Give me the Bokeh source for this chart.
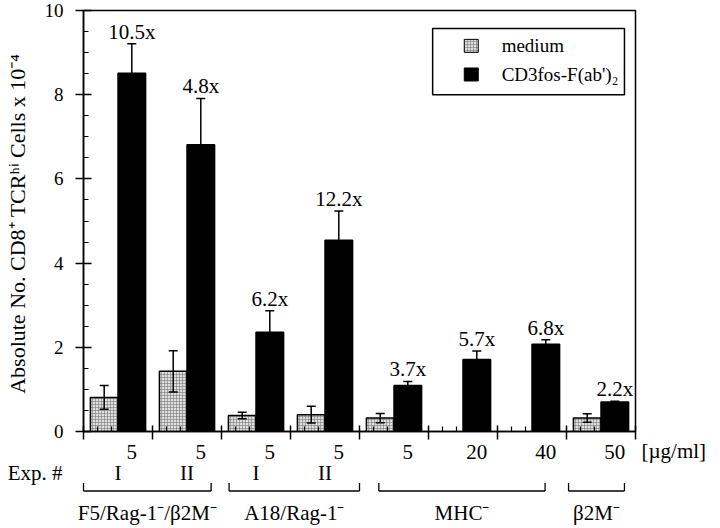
from bokeh.plotting import figure
from bokeh.layouts import column
from bokeh.models import (ColumnDataSource, FixedTicker, Whisker, TeeHead,
                          LabelSet, Range1d)
from bokeh.core.properties import value
from bokeh.embed import file_html
from bokeh.resources import INLINE

# ---------------- data ----------------
conc_labels = ["5", "5", "5", "5", "5", "20", "40", "50"]          # [µg/ml]
experiment = ["I", "II", "I", "II", "", "", "", ""]
medium = [0.81, 1.43, 0.38, 0.40, 0.32, None, None, 0.32]
medium_err = [0.28, 0.49, 0.08, 0.20, 0.11, None, None, 0.10]
cd3 = [8.51, 6.81, 2.36, 4.54, 1.09, 1.71, 2.07, 0.70]
cd3_err = [0.70, 1.10, 0.51, 0.70, 0.10, 0.20, 0.11, 0.02]
fold = ["10.5x", "4.8x", "6.2x", "12.2x", "3.7x", "5.7x", "6.8x", "2.2x"]
groups = ["F5/Rag-1\u207b/\u03b22M\u207b", "A18/Rag-1\u207b", "MHC\u207b", "\u03b22M\u207b"]
group_first = [0, 2, 4, 7]
group_last = [1, 3, 6, 7]
y_ticks = [0, 2, 4, 6, 8, 10]
series_names = ["medium", "CD3fos-F(ab')\u2082"]
unit_label = "[\u00b5g/ml]"
exp_title = "Exp. #"

FONT = "Liberation Serif"
n = len(cd3)
MED_FILL, MED_HATCH = "#dedede", "#7a7a7a"

# layout constants (pixels)
FIG_W = 720
LEFT, RIGHT = 83, 85
TOP_H = 446
GAP = 15                 # px between the x axis line and the bottom of the chart canvas
OVERLAP = 14             # label strip starts 1px under the axis line (transparent overlay)
BOT_H = 528 - TOP_H + OVERLAP
frame_w = FIG_W - LEFT - RIGHT
ppu = frame_w / n        # pixels per slot

# ======================= main chart =======================
p = figure(width=FIG_W, height=TOP_H, x_range=Range1d(0, n), y_range=Range1d(0, 10),
           output_backend="svg", toolbar_location=None,
           min_border_left=LEFT, min_border_right=RIGHT, min_border_top=10, min_border_bottom=GAP)
p.frame_align = False
p.grid.visible = False
p.outline_line_color = "black"
p.outline_line_width = 1.5
p.background_fill_color = "white"
p.border_fill_color = "white"

med_idx = [i for i, m in enumerate(medium) if m is not None]
med_src = ColumnDataSource(dict(
    x=[i + 0.3 for i in med_idx],
    top=[medium[i] for i in med_idx],
    lo=[medium[i] - medium_err[i] for i in med_idx],
    hi=[medium[i] + medium_err[i] for i in med_idx],
))
cd3_src = ColumnDataSource(dict(
    x=[i + 0.7 for i in range(n)],
    top=cd3,
    lo=[c - e for c, e in zip(cd3, cd3_err)],
    hi=[c + e for c, e in zip(cd3, cd3_err)],
    fold=fold,
))

p.vbar(x="x", top="top", bottom=0, width=0.4, source=med_src,
       fill_color=MED_FILL, line_color="black", line_width=1.5,
       hatch_pattern="+", hatch_color=MED_HATCH, hatch_scale=3, hatch_weight=0.6)
p.vbar(x="x", top="top", bottom=0, width=0.4, source=cd3_src,
       fill_color="black", line_color="black", line_width=1.5)

for src in (med_src, cd3_src):
    p.add_layout(Whisker(base="x", lower="lo", upper="hi", source=src, dimension="height",
                         line_color="black", line_width=1.5, level="annotation",
                         upper_head=TeeHead(size=9, line_color="black", line_width=1.5),
                         lower_head=TeeHead(size=9, line_color="black", line_width=1.5)))

p.add_layout(LabelSet(x="x", y="hi", text="fold", source=cd3_src, y_offset=5,
                      text_align="center", text_baseline="alphabetic",
                      text_font=value(FONT), text_font_size="21px", text_color="black"))

# y axis
minor_y = [k * 0.5 for k in range(21) if (k * 0.5) not in y_ticks]
p.yaxis.ticker = FixedTicker(ticks=y_ticks, minor_ticks=minor_y)
p.yaxis.axis_line_width = 1.5
p.yaxis.major_tick_line_width = 1.5
p.yaxis.minor_tick_line_width = 1.2
p.yaxis.major_tick_in = 8
p.yaxis.major_tick_out = 8
p.yaxis.minor_tick_in = 5
p.yaxis.minor_tick_out = 0
p.yaxis.major_label_standoff = 12
p.yaxis.major_label_text_font = FONT
p.yaxis.major_label_text_font_size = "19px"
p.yaxis.major_label_text_color = "black"
p.yaxis.axis_label = "Absolute No. CD8\u207a TCR\u02b0\u2071  Cells x 10\u207b\u2074"
p.yaxis.axis_label_text_font = FONT
p.yaxis.axis_label_text_font_size = "22px"
p.yaxis.axis_label_text_font_style = "normal"
p.yaxis.axis_label_text_color = "black"
p.yaxis.axis_label_standoff = 12

# x axis: slot boundaries cross the axis, small inner ticks within slots
minor_x = [i + f for i in range(n) for f in (0.2, 0.4, 0.6, 0.8)]
p.xaxis.ticker = FixedTicker(ticks=list(range(n + 1)), minor_ticks=minor_x)
p.xaxis.major_label_overrides = {i: "" for i in range(n + 1)}
p.xaxis.major_label_standoff = 0
p.xaxis.axis_line_width = 1.5
p.xaxis.major_tick_line_width = 1.5
p.xaxis.minor_tick_line_width = 1.2
p.xaxis.major_tick_in = 6
p.xaxis.major_tick_out = 8
p.xaxis.minor_tick_in = 5
p.xaxis.minor_tick_out = 0

# legend (hand drawn inside the frame)
p.quad(left=[5.06], right=[7.84], top=[9.57], bottom=[8.0],
       fill_color="white", line_color="black", line_width=1.5)
p.rect(x=[5.62], y=[9.16], width=14, height=13, width_units="screen", height_units="screen",
       fill_color=MED_FILL, line_color="black", line_width=1,
       hatch_pattern="+", hatch_color=MED_HATCH, hatch_scale=3, hatch_weight=0.6)
p.rect(x=[5.62], y=[8.48], width=14, height=13, width_units="screen", height_units="screen",
       fill_color="black", line_color="black", line_width=1)
p.text(x=[6.06, 6.06], y=[9.16, 8.48], text=series_names,
       text_font=value(FONT), text_font_size="19px", text_baseline="middle",
       text_align="left", text_color="black")

# ======================= labels strip under the axis =======================
# transparent overlay; same horizontal scale as the chart,
# vertical unit = pixels below the x axis line
top_y = -(GAP - OVERLAP)
q = figure(width=FIG_W, height=BOT_H,
           x_range=Range1d(-LEFT / ppu, (FIG_W - LEFT) / ppu),
           y_range=Range1d(top_y - BOT_H, top_y),
           output_backend="svg", toolbar_location=None,
           x_axis_type=None, y_axis_type=None,
           min_border_left=0, min_border_right=0, min_border_top=0, min_border_bottom=0,
           margin=(-OVERLAP, 0, 0, 0))
q.frame_align = False
q.grid.visible = False
q.outline_line_color = None
q.background_fill_color = None
q.border_fill_color = None

txt = dict(text_font=value(FONT), text_font_size="21px", text_color="black",
           text_baseline="middle")

# concentrations (under each stimulated bar) and unit
q.text(x=[i + 0.7 for i in range(n)], y=[-20] * n, text=conc_labels, text_align="center", **txt)
q.text(x=[n + 6 / ppu], y=[-19], text=[unit_label], text_align="left", **txt)

# experiment numbers
exp_idx = [i for i, e in enumerate(experiment) if e]
q.text(x=[i + 0.5 for i in exp_idx], y=[-41] * len(exp_idx),
       text=[experiment[i] for i in exp_idx], text_align="center", **txt)
q.text(x=[-21 / ppu], y=[-41], text=[exp_title], text_align="right", **txt)

# group brackets and names
start_pad = [0.0, 0.11, 0.28, 0.03]
end_pad = [0.85, 1.0, 0.69, 0.84]
y_h, y_t = -59.5, -51.5
x0s = [group_first[g] + start_pad[g] for g in range(len(groups))]
x1s = [group_last[g] + end_pad[g] for g in range(len(groups))]
seg_x0 = x0s + x0s + x1s
seg_x1 = x1s + x0s + x1s
seg_y0 = [y_h] * (3 * len(groups))
seg_y1 = [y_h] * len(groups) + [y_t] * (2 * len(groups))
q.segment(x0=seg_x0, y0=seg_y0, x1=seg_x1, y1=seg_y1, line_color="black", line_width=1.3)
q.text(x=[(a + b) / 2 for a, b in zip(x0s, x1s)], y=[-81] * len(groups), text=groups,
       text_align="center", **txt)

layout = column(p, q, spacing=0)
open("out.html", "w").write(file_html(layout, INLINE))
